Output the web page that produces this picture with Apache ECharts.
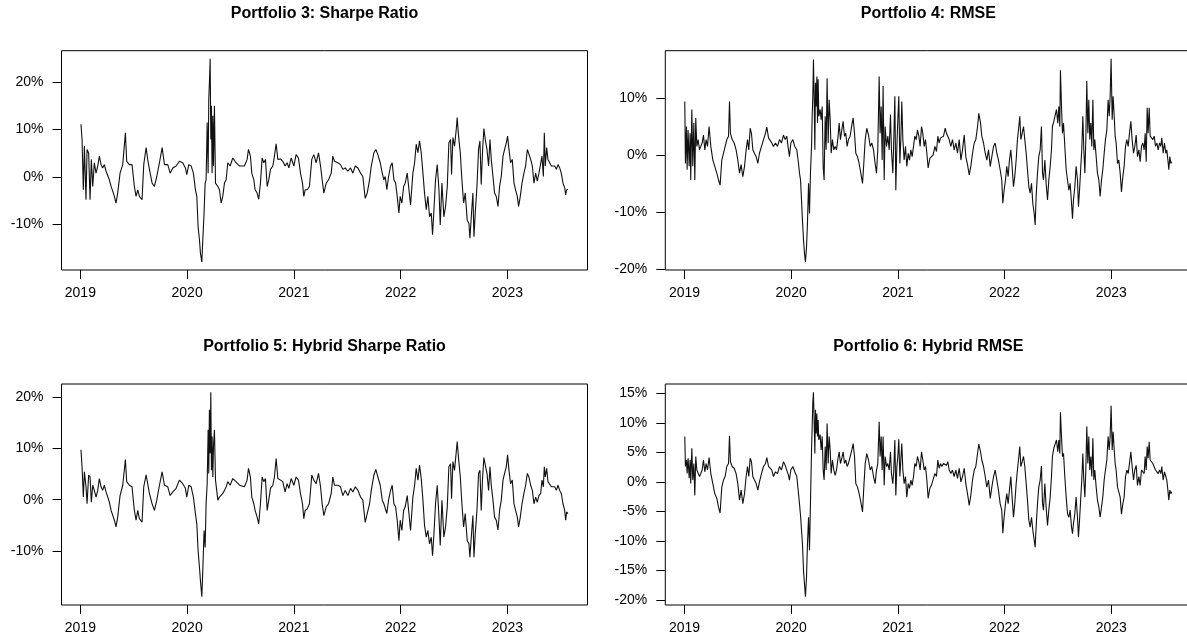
<!DOCTYPE html>
<html>
<head>
<meta charset="utf-8">
<script src="https://cdn.jsdelivr.net/npm/echarts@6/dist/echarts.min.js"></script>
<style>
html,body{margin:0;padding:0;background:#fff;}
#chart{width:1187px;height:641px;}
</style>
</head>
<body>
<div id="chart"></div>
<script>
// Observation dates (decimal years) for the Sharpe-based portfolios (left column)
const datesLeft = [
2019.006,2019.016,2019.028,2019.038,2019.053,2019.063,2019.078,2019.091,2019.103,2019.116,
2019.131,2019.147,2019.163,2019.178,2019.194,2019.209,2019.225,2019.241,2019.272,2019.288,
2019.319,2019.334,2019.350,2019.372,2019.397,2019.422,2019.434,2019.459,2019.484,2019.506,
2019.522,2019.538,2019.553,2019.578,2019.594,2019.616,2019.631,2019.647,2019.672,2019.694,
2019.716,2019.741,2019.766,2019.788,2019.819,2019.841,2019.866,2019.897,2019.928,2019.959,
2019.984,2019.997,2020.016,2020.038,2020.059,2020.078,2020.091,2020.103,2020.116,2020.125,
2020.138,2020.147,2020.159,2020.169,2020.178,2020.188,2020.197,2020.203,2020.209,2020.216,
2020.222,2020.228,2020.234,2020.241,2020.247,2020.256,2020.266,2020.288,2020.303,2020.319,
2020.334,2020.350,2020.366,2020.381,2020.403,2020.428,2020.459,2020.491,
2020.506,2020.537,2020.562,2020.575,2020.593,2020.606,2020.625,2020.637,2020.656,2020.671,
2020.687,2020.703,2020.718,2020.734,2020.750,2020.765,2020.781,2020.803,2020.818,2020.834,
2020.850,2020.875,2020.896,2020.918,2020.937,2020.953,2020.975,2021.000,2021.021,2021.043,
2021.062,2021.081,2021.093,2021.106,2021.125,2021.146,2021.168,2021.187,2021.209,2021.231,
2021.250,2021.265,2021.281,2021.303,2021.325,2021.350,2021.365,2021.381,2021.412,2021.437,
2021.459,2021.481,2021.506,2021.531,2021.553,2021.575,2021.600,2021.625,2021.646,2021.668,
2021.687,2021.709,2021.725,2021.750,2021.768,2021.787,2021.809,2021.828,2021.843,2021.856,
2021.871,2021.887,2021.906,2021.921,2021.937,2021.953,2021.968,2021.984,2021.996,2022.012,
2022.028,2022.043,2022.062,2022.075,2022.093,2022.115,2022.131,
2022.146,2022.162,2022.177,2022.193,2022.209,2022.224,2022.240,2022.255,2022.271,2022.287,
2022.299,2022.312,2022.327,2022.343,2022.359,2022.371,2022.387,2022.405,2022.421,2022.437,
2022.452,2022.468,2022.477,2022.490,2022.505,2022.521,2022.530,2022.543,2022.559,2022.574,
2022.590,2022.605,2022.624,2022.640,2022.649,2022.662,2022.677,2022.687,2022.699,2022.715,
2022.730,2022.743,2022.755,2022.768,2022.780,2022.793,2022.809,2022.824,2022.837,2022.849,
2022.865,2022.880,2022.896,2022.912,2022.927,2022.943,2022.959,2022.974,2022.990,2023.002,
2023.015,2023.030,2023.046,2023.062,2023.077,2023.093,2023.105,2023.121,2023.137,2023.155,
2023.171,2023.187,2023.202,2023.218,2023.234,2023.249,2023.265,2023.280,2023.296,2023.312,
2023.324,2023.337,2023.346,2023.355,2023.368,2023.380,2023.396,2023.412,2023.427,2023.443,
2023.459,2023.474,2023.490,2023.505,2023.521,2023.537,2023.546,2023.555,2023.568
];

// Observation dates (decimal years) for the RMSE-based portfolios (right column)
const datesRight = [
2019.003,2019.009,2019.019,2019.025,2019.034,2019.044,2019.053,2019.059,2019.069,2019.078,
2019.088,2019.097,2019.106,2019.116,2019.128,2019.141,2019.153,2019.166,2019.178,2019.191,
2019.203,2019.216,2019.231,2019.247,2019.266,2019.284,2019.303,2019.319,2019.334,2019.350,
2019.366,2019.381,2019.397,2019.413,2019.422,2019.431,2019.447,2019.466,2019.484,2019.500,
2019.516,2019.531,2019.547,2019.563,2019.578,2019.591,2019.603,2019.616,2019.628,2019.641,
2019.656,2019.672,2019.688,2019.703,2019.722,2019.741,2019.759,2019.772,2019.788,2019.803,
2019.819,2019.834,2019.853,2019.872,2019.891,2019.909,2019.928,2019.944,2019.959,2019.975,
2019.984,2019.997,2020.016,2020.034,2020.053,2020.069,2020.078,2020.088,2020.097,2020.106,
2020.116,2020.125,2020.134,2020.144,2020.153,2020.163,2020.172,2020.181,2020.191,2020.197,
2020.203,2020.209,2020.216,2020.222,2020.228,2020.234,2020.241,2020.247,2020.253,2020.259,
2020.272,
2020.281,2020.291,2020.300,2020.309,2020.319,2020.328,2020.337,2020.347,2020.356,2020.366,
2020.375,2020.387,2020.400,2020.412,2020.425,2020.437,2020.450,2020.462,2020.475,2020.487,
2020.500,2020.512,2020.525,2020.537,2020.553,2020.569,2020.581,2020.594,2020.606,2020.622,
2020.637,2020.653,2020.669,2020.681,2020.694,2020.709,2020.725,2020.741,2020.756,2020.772,
2020.787,2020.800,2020.812,2020.825,2020.834,2020.844,2020.853,2020.862,2020.872,2020.881,
2020.894,2020.906,2020.919,2020.931,2020.940,2020.953,2020.962,2020.972,2020.981,2020.991,
2021.000,2021.009,2021.019,2021.028,2021.037,2021.047,2021.059,2021.072,2021.084,2021.097,
2021.109,2021.122,2021.134,2021.147,2021.159,2021.172,2021.184,2021.197,2021.209,2021.222,
2021.234,2021.247,2021.259,2021.272,2021.284,2021.300,2021.315,2021.331,2021.347,2021.362,
2021.375,2021.387,2021.400,2021.412,2021.428,2021.444,2021.456,2021.469,2021.481,2021.497,
2021.512,2021.528,2021.544,2021.559,2021.575,2021.591,2021.606,2021.622,2021.637,2021.653,
2021.669,2021.684,2021.700,2021.716,2021.731,2021.747,2021.759,2021.775,2021.787,2021.803,
2021.819,2021.834,2021.850,2021.866,2021.881,2021.897,2021.912,
2021.928,2021.943,2021.959,2021.974,2021.984,2021.996,2022.009,2022.021,2022.034,2022.046,
2022.059,2022.071,2022.084,2022.096,2022.109,2022.121,2022.134,2022.143,2022.153,2022.165,
2022.178,2022.190,2022.203,2022.215,2022.228,2022.240,2022.253,2022.265,2022.278,2022.287,
2022.296,2022.309,2022.321,2022.334,2022.346,2022.356,2022.365,2022.378,2022.390,2022.403,
2022.415,2022.428,2022.440,2022.449,2022.462,2022.474,2022.487,2022.499,2022.509,2022.518,
2022.524,2022.534,2022.543,2022.553,2022.565,2022.578,2022.590,2022.603,2022.615,2022.628,
2022.637,2022.646,2022.659,2022.671,2022.684,2022.693,2022.703,2022.715,2022.724,2022.734,
2022.743,2022.753,2022.762,2022.771,2022.781,2022.790,2022.799,2022.809,2022.818,2022.828,
2022.837,2022.846,2022.859,2022.871,2022.884,2022.896,2022.909,2022.921,2022.934,2022.946,
2022.959,2022.971,2022.981,2022.990,2022.999,2023.009,2023.018,2023.028,2023.037,2023.046,
2023.059,2023.071,2023.084,2023.096,2023.109,2023.121,2023.134,2023.146,2023.159,2023.171,
2023.184,2023.196,2023.209,2023.221,2023.234,2023.246,2023.259,2023.271,2023.284,2023.296,
2023.309,2023.318,2023.328,2023.337,2023.346,2023.356,2023.365,2023.378,2023.390,2023.403,
2023.415,2023.428,2023.440,2023.453,2023.465,2023.474,2023.487,2023.499,2023.512,2023.521,
2023.531,2023.540,2023.549,2023.559,2023.568
];

// Portfolio 3: Sharpe Ratio (returns, %)
const p3Sharpe = [
11.1,7.9,-2.7,6.5,-4.8,5.8,5.0,-4.8,3.7,-2.0,
3.0,0.8,2.3,4.4,2.6,1.9,2.6,1.2,-0.6,-2.0,
-4.1,-5.5,-3.4,0.8,2.6,9.3,3.3,2.6,2.6,-2.0,
-4.1,-2.7,-4.1,-4.8,2.6,6.2,3.7,1.6,-1.3,-2.0,
0.1,3.0,6.2,2.6,2.6,0.8,1.9,2.3,3.3,3.0,
1.9,0.5,2.6,2.3,0.8,-2.7,-4.1,-10.5,-13.3,-16.1,
-17.9,-13.3,-7.6,-1.3,-0.6,11.5,0.8,16.4,19.9,24.9,
7.9,15.0,0.8,12.9,2.3,15.0,-1.3,-2.0,-2.7,-5.5,
-4.1,-1.3,-0.6,3.0,2.3,4.0,3.0,2.3,
2.6,2.3,3.7,5.8,4.4,0.8,-0.6,-2.7,-3.4,-4.7,
-1.3,4.0,3.0,3.7,-2.0,-0.6,1.6,2.3,4.4,7.0,
3.7,3.8,3.3,2.3,3.0,1.9,4.0,2.3,4.7,4.0,
0.8,-1.3,-4.1,-2.7,-2.7,-2.0,3.7,4.7,3.0,5.1,
2.3,-0.6,-3.4,-1.3,-0.6,0.8,4.4,3.3,3.0,2.6,
1.6,1.9,1.2,1.9,0.8,2.3,1.9,0.8,0.1,-4.5,
-3.4,-0.6,2.3,5.1,5.8,4.7,3.0,0.8,-0.6,0.1,
-2.7,0.1,2.3,3.0,-0.6,-1.3,-4.1,-7.6,-4.1,-5.5,
-2.0,-1.3,0.8,-2.0,-5.9,0.8,3.0,
6.9,5.1,7.6,5.1,0.8,-3.4,-6.9,-4.1,-8.4,-7.6,
-12.2,-6.9,-0.6,2.6,-2.7,-10.1,-1.3,-8.4,-6.2,-2.0,
7.2,7.9,0.5,8.3,6.5,10.0,12.5,8.6,5.1,-0.6,
-5.5,-3.4,-9.1,-9.8,-12.9,-8.4,-3.4,-12.6,-7.6,-2.0,
5.8,7.6,-1.6,5.8,10.2,7.9,5.8,2.3,7.9,3.7,
0.1,-3.4,-4.1,-6.2,-2.0,0.1,4.4,5.8,7.2,8.6,
5.8,3.0,3.7,-1.3,-2.7,-4.1,-6.2,-4.1,-1.3,0.8,
2.3,5.8,5.4,3.7,2.3,-1.3,0.8,-0.9,0.8,0.8,
4.4,0.1,9.3,2.3,6.2,3.7,3.0,2.3,1.9,2.3,
1.6,2.6,1.9,0.8,-1.3,-2.3,-3.8,-2.7,-2.6
];

// Portfolio 5: Hybrid Sharpe Ratio (returns, %)
const p5HybridSharpe = [
9.7,6.4,0.5,5.4,2.5,-0.8,4.8,4.4,-0.5,2.8,
1.8,0.5,1.8,4.1,2.5,1.8,2.8,1.5,-0.5,-2.1,
-4.0,-5.3,-3.4,0.8,2.8,7.8,3.5,2.8,2.5,-2.1,
-4.0,-2.1,-3.7,-4.4,2.5,4.8,3.1,1.2,-0.8,-2.1,
-0.1,2.8,5.4,2.8,2.5,0.8,1.5,2.2,3.8,3.1,
2.2,0.5,2.8,2.5,0.5,-2.7,-4.7,-9.9,-13.2,-15.8,
-18.9,-13.8,-6.0,-9.3,-0.8,3.1,13.6,5.1,17.5,9.0,
20.9,5.7,12.3,4.4,10.3,13.6,3.8,-0.1,0.5,0.8,
1.2,1.8,2.5,3.5,2.8,4.1,3.5,2.8,
2.8,2.5,3.8,6.1,4.4,0.5,-0.8,-2.1,-3.4,-4.7,
-0.8,4.4,3.5,4.1,-2.1,-0.1,2.2,2.8,4.4,8.0,
4.1,3.8,3.5,1.5,3.1,2.2,4.1,2.8,4.4,3.8,
1.2,-0.8,-3.7,-2.1,-1.8,-0.8,4.8,3.8,3.1,5.1,
2.5,-0.8,-3.1,-1.4,-0.8,1.2,4.4,2.8,2.8,2.5,
0.8,1.8,0.8,2.2,1.5,2.5,1.8,0.5,-0.1,-4.4,
-2.7,-0.8,1.8,4.8,5.9,4.4,2.8,-0.1,-0.8,-0.5,
-2.7,-0.1,1.8,2.8,-0.8,-1.4,-4.0,-8.0,-4.0,-6.0,
-2.1,-1.4,0.8,-2.1,-6.0,0.5,2.8,
6.1,3.8,6.7,4.1,-0.1,-5.0,-7.3,-6.0,-8.6,-7.3,
-10.9,-6.7,-0.8,2.8,-3.4,-8.9,-0.1,-7.3,-5.3,-1.4,
6.4,7.0,0.2,7.4,5.7,9.3,11.3,8.0,4.4,-0.8,
-5.3,-2.7,-8.0,-8.6,-11.2,-7.3,-3.1,-11.2,-6.7,-2.1,
5.1,5.7,-2.1,4.4,8.2,6.7,5.1,1.8,6.4,2.8,
-0.1,-3.4,-4.0,-5.9,-2.1,-0.1,3.8,5.1,6.4,8.7,
5.7,3.1,3.8,-0.8,-2.1,-3.4,-5.3,-3.4,-0.8,1.2,
2.8,5.1,4.4,2.8,1.8,-0.8,0.5,-0.5,0.8,1.2,
3.8,2.5,6.4,4.4,6.1,3.5,3.8,2.5,2.2,2.5,
1.8,2.8,1.8,1.2,-0.8,-2.1,-4.0,-2.4,-2.7
];

// Portfolio 4: RMSE (returns, %)
const p4Rmse = [
9.5,-1.4,5.1,-2.5,4.5,-1.9,3.9,-4.3,8.1,-1.9,
5.7,-4.3,6.6,1.6,2.8,1.0,1.6,2.2,3.6,1.0,
2.8,1.6,5.1,1.6,-0.8,-1.9,-3.1,-4.3,-5.2,-0.8,
0.4,0.7,2.8,3.4,9.5,3.9,2.8,2.2,1.0,-0.8,
-3.1,-1.6,-3.7,-1.9,1.0,2.8,1.0,4.8,3.9,1.0,
0.4,-0.2,-1.4,0.4,1.6,2.8,3.9,5.0,3.1,3.4,
2.2,1.6,2.2,1.6,2.8,2.2,3.6,2.8,3.4,1.0,
-0.2,2.2,2.8,1.6,1.0,-1.4,-3.1,-4.3,-7.8,-11.4,
-14.9,-17.2,-18.7,-16.1,-11.9,-4.9,-10.2,-3.1,1.6,6.9,
10.4,16.9,9.8,1.0,12.8,8.6,13.9,5.7,13.4,6.9,
8.1,
6.3,8.6,-1.9,-4.3,6.9,1.0,13.6,2.2,9.8,6.3,
0.4,2.8,1.0,1.6,1.0,2.8,5.7,2.8,4.5,6.0,
3.4,3.9,1.6,2.8,3.4,5.4,6.6,3.9,0.4,-0.2,
-1.4,-3.1,-4.9,-1.4,2.8,4.8,3.6,1.6,2.2,1.0,
-1.4,-3.1,1.0,13.9,3.9,8.6,-0.8,12.2,-4.3,5.1,
1.6,3.4,1.0,7.2,1.0,-3.1,2.8,10.4,-6.1,1.6,
6.3,10.4,-1.4,2.8,9.5,2.8,-0.8,1.6,-1.9,0.4,
-0.8,1.0,-0.2,1.6,3.4,2.8,4.5,3.4,1.6,5.1,
3.9,1.6,2.8,0.4,-2.2,-0.5,-0.2,0.1,1.6,0.7,
3.4,2.2,3.1,2.8,3.4,4.8,3.9,4.2,2.8,1.6,
2.8,1.0,2.2,0.4,2.8,-0.8,1.0,3.6,-0.2,-1.6,
-3.4,-1.9,0.4,2.2,2.8,5.1,7.4,5.7,3.4,2.2,
0.4,-0.8,1.0,-1.9,-0.2,1.6,2.2,
0.4,-0.8,-2.5,-4.3,-8.4,-6.1,-4.3,-1.9,-3.7,-0.8,
1.0,-1.9,-5.5,-3.7,-0.8,2.8,5.1,6.9,2.8,3.9,
5.1,2.8,0.4,-2.5,-5.5,-6.6,-4.9,-8.4,-10.2,-12.2,
-7.2,-3.1,-0.2,1.0,5.1,-3.1,-4.3,-0.8,-4.9,-7.8,
-4.3,-1.9,1.0,5.1,6.0,6.3,8.1,5.7,8.6,5.1,
15.0,8.6,3.9,5.7,1.6,-2.5,-4.3,-6.1,-4.9,-8.4,
-11.1,-7.8,-5.5,-1.9,-4.3,-9.0,-6.1,-1.9,1.0,6.9,
1.0,-3.1,2.8,13.1,3.9,9.8,2.8,5.7,1.6,9.8,
1.0,2.8,-0.2,-3.1,-4.3,-7.2,-4.3,-2.5,0.4,2.8,
4.5,9.8,6.9,10.4,17.0,6.3,10.4,6.9,3.4,2.2,
-1.4,-0.8,-3.1,-6.4,-3.7,-1.9,1.6,2.8,1.6,3.9,
6.0,2.8,0.4,1.6,3.6,-0.2,1.0,-1.1,1.6,2.2,
1.0,3.9,-1.1,8.4,3.9,8.4,3.4,3.6,2.8,3.4,
1.6,2.2,1.0,2.2,1.6,3.1,0.4,2.2,0.4,1.0,
-0.8,-2.5,-0.2,-1.4,-1.1
];

// Portfolio 6: Hybrid RMSE (returns, %)
const p6HybridRmse = [
7.7,2.6,3.7,1.4,4.0,0.6,3.7,-0.3,5.7,0.3,
3.1,-2.3,4.3,2.0,2.3,0.9,1.4,2.0,3.7,1.7,
3.1,2.0,4.1,1.4,-0.3,-2.0,-2.8,-4.3,-5.3,-0.9,
0.3,0.9,2.6,3.1,7.8,3.4,2.6,2.3,1.4,-0.3,
-3.1,-1.4,-3.7,-2.0,0.9,2.6,0.9,4.0,3.4,0.9,
0.3,-0.3,-1.4,0.0,1.4,2.6,3.1,4.1,2.6,2.8,
2.0,0.9,1.7,1.4,2.6,2.0,3.4,2.8,3.1,1.1,
0.3,2.0,2.6,1.7,0.9,-2.0,-3.7,-5.7,-8.2,-10.5,
-15.1,-17.3,-19.5,-16.2,-10.5,-6.0,-11.6,-3.7,5.4,9.4,
13.4,15.2,9.9,4.8,12.2,8.2,11.6,7.7,10.5,7.1,
8.0,
5.4,7.7,2.0,0.3,6.0,2.0,9.9,3.1,7.7,5.4,
1.4,3.7,2.0,1.1,2.0,3.7,5.1,3.1,4.0,5.1,
3.1,3.7,2.6,3.1,2.8,5.4,6.5,4.3,-0.3,-0.9,
-2.0,-3.4,-5.1,-0.9,3.1,4.8,3.7,2.0,2.6,0.9,
-0.3,2.0,3.1,10.2,4.3,7.7,2.0,7.7,-0.6,4.3,
2.6,3.1,2.0,5.1,1.4,-0.3,2.0,7.1,-2.3,2.6,
4.3,7.2,0.9,3.7,6.5,2.0,-0.3,0.9,-2.6,-0.3,
-1.1,0.3,-0.6,0.9,3.1,2.6,4.3,3.4,2.0,5.1,
3.7,2.0,2.6,0.3,-2.8,-1.1,-0.6,-0.3,1.4,0.9,
3.7,2.3,3.1,2.6,3.1,3.4,2.8,3.4,2.0,1.4,
2.0,0.9,2.0,0.6,2.3,0.0,0.9,2.3,-0.3,-2.0,
-4.0,-2.3,0.3,2.0,2.6,4.8,6.4,5.1,3.7,2.6,
0.9,-0.9,0.3,-2.8,-0.9,0.9,2.0,
0.3,-1.4,-3.7,-4.8,-8.7,-6.0,-3.7,-2.0,-3.7,-1.4,
0.9,-2.6,-6.0,-3.7,-0.3,2.0,4.3,6.0,2.6,3.4,
4.3,2.6,-0.3,-3.1,-6.5,-7.7,-6.0,-8.2,-9.9,-11.1,
-7.7,-3.7,-0.9,0.3,2.7,-3.7,-4.8,-0.3,-4.3,-7.4,
-4.8,-2.6,0.9,4.3,5.7,5.4,7.1,5.1,7.1,4.8,
11.8,7.7,4.3,4.8,0.9,-2.6,-5.4,-6.0,-4.8,-7.7,
-8.8,-7.1,-5.4,-2.6,-6.0,-9.4,-6.5,-2.6,0.3,4.8,
0.3,-2.6,2.0,9.4,3.1,7.7,2.0,4.3,0.9,7.4,
0.3,2.0,-0.9,-3.1,-4.3,-6.0,-4.3,-2.6,0.3,2.0,
3.7,7.7,5.4,7.7,12.9,5.4,8.5,5.4,3.1,2.0,
-0.9,-0.6,-2.6,-5.5,-3.7,-2.6,0.9,2.0,1.4,3.1,
5.1,2.6,0.3,2.0,2.8,-0.6,0.9,-0.6,2.0,2.0,
1.4,4.3,2.0,6.0,4.0,6.8,3.7,3.7,3.1,3.4,
2.0,2.3,1.4,2.0,1.4,2.6,0.3,1.7,0.9,0.3,
-1.4,-3.1,-1.4,-2.0,-1.7
];

const panelTitles = [
  'Portfolio 3: Sharpe Ratio',
  'Portfolio 4: RMSE',
  'Portfolio 5: Hybrid Sharpe Ratio',
  'Portfolio 6: Hybrid RMSE'
];
const yearTicks = [2019, 2020, 2021, 2022, 2023];
const yTicksP3 = [-10, 0, 10, 20];
const yTicksP4 = [-20, -10, 0, 10];
const yTicksP5 = [-10, 0, 10, 20];
const yTicksP6 = [-20, -15, -10, -5, 0, 5, 10, 15];

// Plot boxes (base-graphics style 2x2 layout)
const boxes = [
  { left: 61.5,  top: 50.7, width: 526, height: 219.3 },
  { left: 665.3, top: 50.7, width: 526, height: 219.3 },
  { left: 61.5,  top: 384,  width: 526, height: 221 },
  { left: 665.3, top: 384,  width: 526, height: 221 }
];
// main titles sit a little over two text lines above each plot box
const TITLE_GAP = 37;

const FONT = '"Liberation Sans", Arial, Helvetica, sans-serif';

// axis range padded by 4% on each side of the data range
function padded(arr) {
  let lo = Infinity, hi = -Infinity;
  arr.forEach(v => { if (v < lo) lo = v; if (v > hi) hi = v; });
  const p = (hi - lo) * 0.04;
  return [lo - p, hi + p];
}

const panels = [
  { dates: datesLeft,  values: p3Sharpe,       yTicks: yTicksP3 },
  { dates: datesRight, values: p4Rmse,         yTicks: yTicksP4 },
  { dates: datesLeft,  values: p5HybridSharpe, yTicks: yTicksP5 },
  { dates: datesRight, values: p6HybridRmse,   yTicks: yTicksP6 }
];

const grids = [], xAxes = [], yAxes = [], series = [], titles = [];
panels.forEach((p, i) => {
  const b = boxes[i];
  grids.push({
    left: b.left, top: b.top, width: b.width, height: b.height,
    show: true, borderColor: '#000', borderWidth: 1,
    backgroundColor: 'transparent', containLabel: false, outerBoundsMode: 'none'
  });
  const xr = padded(p.dates);
  const yr = padded(p.values);
  xAxes.push({
    type: 'value', gridIndex: i, min: xr[0], max: xr[1], position: 'bottom',
    axisLine: { show: false, onZero: false },
    axisTick: { show: true, inside: false, length: 9, customValues: yearTicks,
                lineStyle: { color: '#000', width: 1 } },
    axisLabel: { show: true, customValues: yearTicks, color: '#000', fontSize: 14,
                 fontFamily: FONT, margin: 16, formatter: v => String(Math.round(v)) },
    splitLine: { show: false }
  });
  yAxes.push({
    type: 'value', gridIndex: i, min: yr[0], max: yr[1], position: 'left',
    axisLine: { show: false, onZero: false },
    axisTick: { show: true, inside: false, length: 9, customValues: p.yTicks,
                lineStyle: { color: '#000', width: 1 } },
    axisLabel: { show: true, customValues: p.yTicks, color: '#000', fontSize: 14,
                 fontFamily: FONT, margin: 18, formatter: v => Math.round(v) + '%' },
    splitLine: { show: false }
  });
  series.push({
    type: 'line', xAxisIndex: i, yAxisIndex: i,
    data: p.dates.map((d, k) => [d, p.values[k]]),
    showSymbol: false, symbol: 'none', smooth: false,
    lineStyle: { color: '#111', width: 1.1 },
    silent: true, animation: false
  });
  titles.push({
    text: panelTitles[i],
    left: b.left + b.width / 2, top: b.top - TITLE_GAP,
    textAlign: 'center', textVerticalAlign: 'middle', padding: 0,
    textStyle: { fontFamily: FONT, fontSize: 16, fontWeight: 'bold', color: '#000' }
  });
});

const chart = echarts.init(document.getElementById('chart'), null, { renderer: 'canvas' });
chart.setOption({
  animation: false,
  backgroundColor: '#fff',
  title: titles,
  grid: grids,
  xAxis: xAxes,
  yAxis: yAxes,
  series: series
});
</script>
</body>
</html>
